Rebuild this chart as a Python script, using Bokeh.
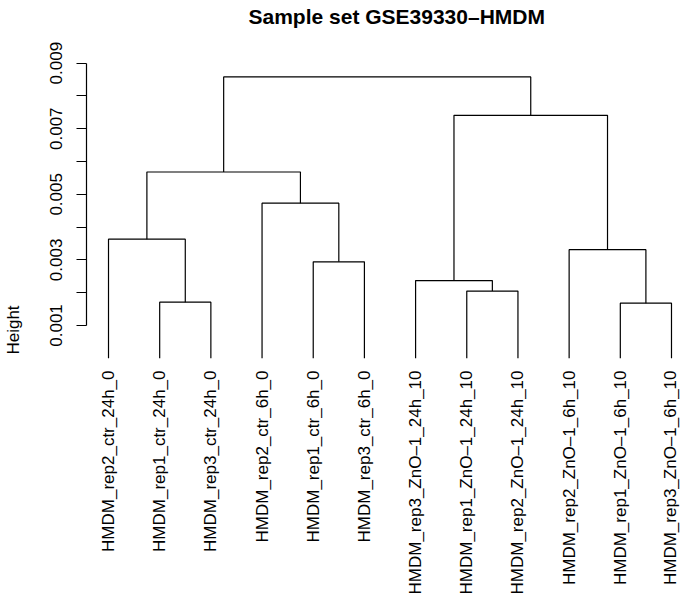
import math
from bokeh.plotting import figure
from bokeh.models import LinearAxis, FixedTicker, PrintfTickFormatter, Title
from bokeh.embed import file_html
from bokeh.resources import INLINE

# ---- data ----
leaf_labels = [
    "HMDM_rep2_ctr_24h_0", "HMDM_rep1_ctr_24h_0", "HMDM_rep3_ctr_24h_0",
    "HMDM_rep2_ctr_6h_0", "HMDM_rep1_ctr_6h_0", "HMDM_rep3_ctr_6h_0",
    "HMDM_rep3_ZnO–1_24h_10", "HMDM_rep1_ZnO–1_24h_10", "HMDM_rep2_ZnO–1_24h_10",
    "HMDM_rep2_ZnO–1_6h_10", "HMDM_rep1_ZnO–1_6h_10", "HMDM_rep3_ZnO–1_6h_10",
]
# hclust-style merges: negative = leaf (1-based), positive = earlier merge (1-based)
merge_left = [-2, -1, -5, -4, 2, -8, -7, -11, -10, 7, 5]
merge_right = [-3, 1, -6, 3, 4, -9, 6, -12, 8, 9, 10]
merge_height = [0.00171, 0.00363, 0.00294, 0.00473, 0.00568,
                0.00205, 0.00237, 0.00168, 0.00331, 0.00741, 0.00858]
y_ticks = [0.001, 0.003, 0.005, 0.007, 0.009]
y_minor_ticks = [0.002, 0.004, 0.006, 0.008]

FONT = "Liberation Sans"

# ---- build dendrogram polylines ----
leaf_pos = list(range(1, len(leaf_labels) + 1))
mx, mh = [], []
xs, ys = [], []
for l, r, h in zip(merge_left, merge_right, merge_height):
    def child(c):
        if c < 0:
            return leaf_pos[-c - 1], 0.0
        return mx[c - 1], mh[c - 1]
    xl, hl = child(l)
    xr, hr = child(r)
    xs.append([xl, xl, xr, xr])
    ys.append([hl, h, h, hr])
    mx.append((xl + xr) / 2)
    mh.append(h)

H = max(merge_height)
x_start, x_end = 0.57, 12.176
# the plot region also holds the leaf labels (as in the original), so it reaches down
y_start, y_end = -0.007327, y_ticks[-1] + 0.00005
label_row = -0.04 * H   # where the leaf-label axis sits

p = figure(width=680, height=598,
           x_range=(x_start, x_end),
           y_range=(y_start, y_end),
           x_axis_type=None, y_axis_type=None,
           output_backend="svg", toolbar_location=None,
           min_border_left=86, min_border_right=0,
           min_border_top=61, min_border_bottom=0)
p.outline_line_color = None
p.background_fill_color = "white"
p.border_fill_color = "white"

# spacer between frame and title (nearest the frame), then the title itself
p.add_layout(Title(text=" ", text_font_size="10px", standoff=20), "above")
p.add_layout(Title(text="Sample set GSE39330–HMDM", align="left", offset=162,
                   vertical_align="bottom", standoff=2,
                   text_font=FONT, text_font_size="21px",
                   text_font_style="bold", text_color="black"), "above")

p.multi_line(xs=xs, ys=ys, line_color="black", line_width=1.2)

yaxis = LinearAxis(
    ticker=FixedTicker(ticks=y_ticks, minor_ticks=y_minor_ticks),
    formatter=PrintfTickFormatter(format="%.3f"),
    bounds=(y_ticks[0], y_ticks[-1]),
    axis_line_color="black", axis_line_width=1.2,
    major_tick_line_color="black", major_tick_line_width=1.2,
    minor_tick_line_color="black", minor_tick_line_width=1.2,
    major_tick_in=0, major_tick_out=10,
    minor_tick_in=0, minor_tick_out=10,
    major_label_orientation="parallel",
    major_label_standoff=14,
    major_label_text_font=FONT,
    major_label_text_font_size="17px",
    major_label_text_color="black",
    axis_label="Height",
    axis_label_standoff=25,
    axis_label_text_font=FONT,
    axis_label_text_font_size="17px",
    axis_label_text_font_style="normal",
    axis_label_text_color="black",
)
p.add_layout(yaxis, "left")

xaxis = LinearAxis(
    fixed_location=label_row,
    ticker=FixedTicker(ticks=leaf_pos),
    major_label_overrides={i: lab for i, lab in zip(leaf_pos, leaf_labels)},
    axis_line_color=None,
    major_tick_line_color=None, minor_tick_line_color=None,
    major_tick_in=0, major_tick_out=0,
    minor_tick_in=0, minor_tick_out=0,
    major_label_orientation=math.pi / 2,
    major_label_standoff=1,
    major_label_text_font=FONT,
    major_label_text_font_size="17px",
    major_label_text_color="black",
)
p.add_layout(xaxis, "below")

open("out.html", "w").write(file_html(p, INLINE))
